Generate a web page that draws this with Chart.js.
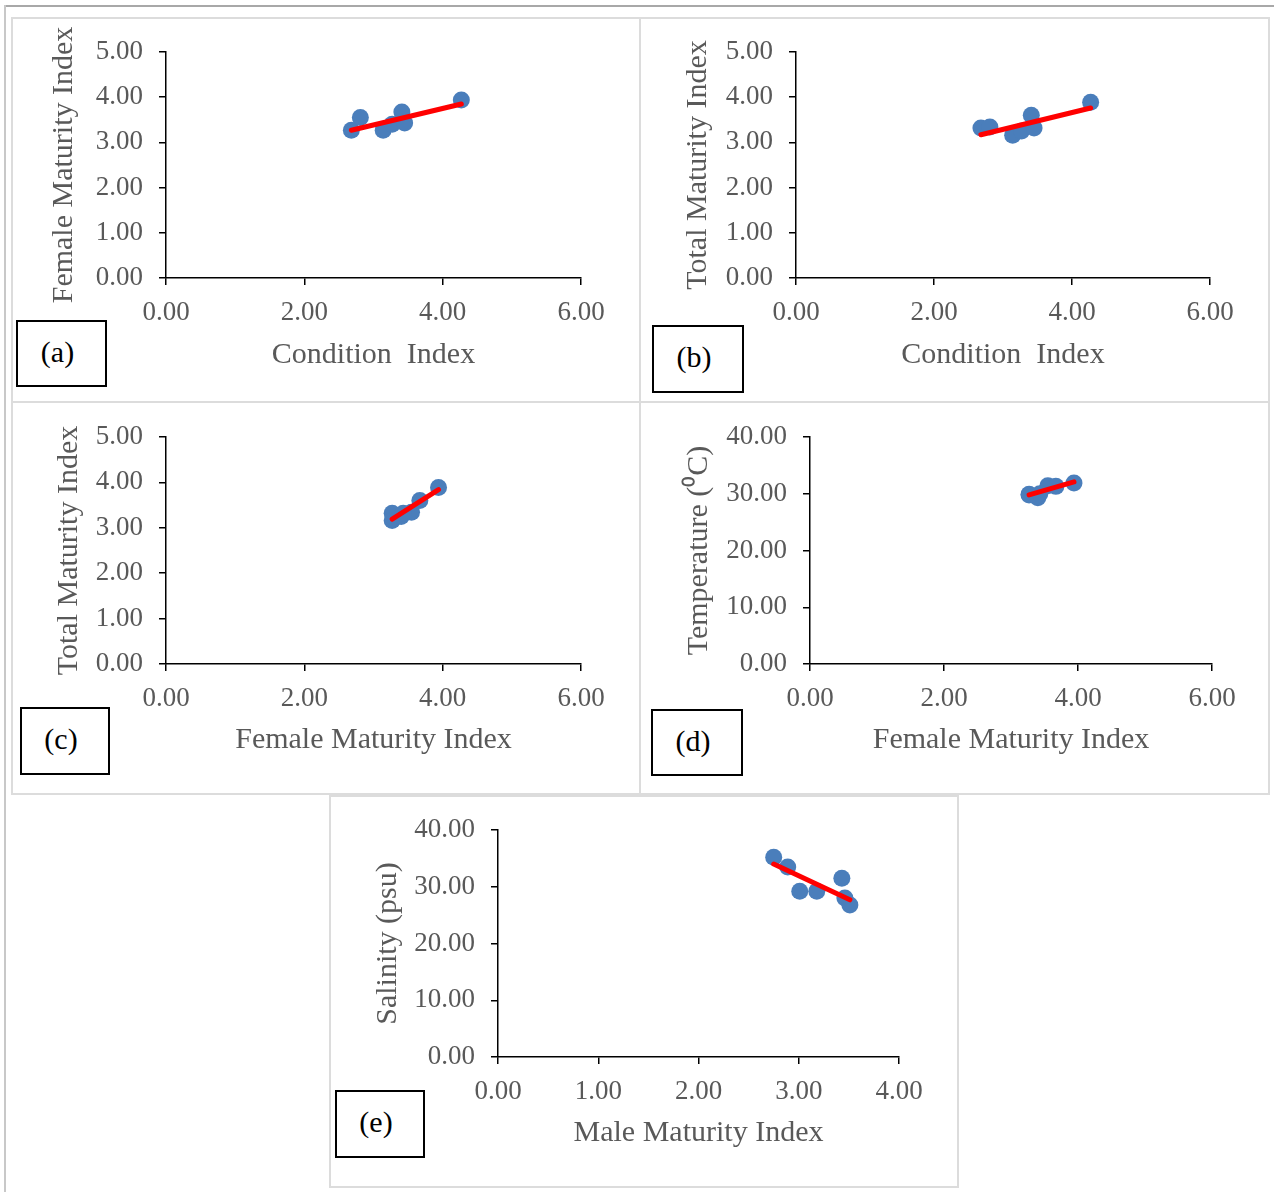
<!DOCTYPE html>
<html><head><meta charset="utf-8">
<script src="https://cdn.jsdelivr.net/npm/chart.js@4.4.0/dist/chart.umd.min.js"></script>
<style>
html,body{margin:0;padding:0;background:#fff;}
body{width:1274px;height:1192px;position:relative;overflow:hidden;font-family:"Liberation Serif","Times New Roman",serif;}
.abs{position:absolute;box-sizing:border-box;}
.panel{border:2px solid #dcdcdc;}
.lbl{border:2px solid #000;font-size:30px;color:#000;display:flex;align-items:center;justify-content:center;padding-right:8px;padding-bottom:4px;background:#fff;z-index:5;}
canvas{position:absolute;}
</style></head><body>
<div class="abs" style="left:4px;top:5px;width:1270px;height:2px;background:#a8a8a8"></div>
<div class="abs" style="left:4px;top:5px;width:2px;height:1187px;background:#c8c8c8"></div>
<div class="abs panel" style="left:11px;top:17px;width:630px;height:386px"></div>
<div class="abs panel" style="left:639px;top:17px;width:631px;height:386px"></div>
<div class="abs panel" style="left:11px;top:401px;width:630px;height:394px"></div>
<div class="abs panel" style="left:639px;top:401px;width:631px;height:394px"></div>
<div class="abs panel" style="left:329px;top:795px;width:630px;height:393px"></div>
<div class="abs lbl" style="left:16px;top:320px;width:91px;height:67px">(a)</div>
<div class="abs lbl" style="left:652px;top:325px;width:92px;height:68px">(b)</div>
<div class="abs lbl" style="left:20px;top:707px;width:90px;height:68px">(c)</div>
<div class="abs lbl" style="left:651px;top:709px;width:92px;height:67px">(d)</div>
<div class="abs lbl" style="left:335px;top:1090px;width:90px;height:68px">(e)</div>
<script>
// ---- data (one entry per sample) ----
const conditionIndex = [2.68, 2.81, 3.14, 3.27, 3.41, 3.45, 4.27];
const femaleMaturity = [3.27, 3.55, 3.27, 3.40, 3.67, 3.43, 3.94];
const totalMaturity  = [3.32, 3.34, 3.16, 3.25, 3.60, 3.32, 3.89];
const temperature    = [29.9, 31.4, 29.8, 29.3, 31.3, 30.0, 31.9];
const maleMaturity   = [2.75, 2.89, 3.01, 3.18, 3.43, 3.46, 3.51];
const salinity       = [35.2, 33.5, 29.2, 29.2, 31.5, 28.0, 26.8];

// ---- trend line endpoints (as drawn in the figure) ----
const trendAx = [2.68, 4.27], trendAy = [3.27, 3.85];
const trendBx = [2.68, 4.27], trendBy = [3.17, 3.76];
const trendCx = [3.27, 3.94], trendCy = [3.19, 3.84];
const trendDx = [3.27, 3.94], trendDy = [29.8, 32.1];
const trendEx = [2.75, 3.51], trendEy = [34.0, 27.7];

// ---- tick values ----
const ticks0to5 = [0, 1, 2, 3, 4, 5];
const ticks0to6 = [0, 2, 4, 6];
const ticks0to40 = [0, 10, 20, 30, 40];
const ticks0to4 = [0, 1, 2, 3, 4];

// ---- titles ----
const titlesA = ['Condition  Index', 'Female Maturity Index'];
const titlesB = ['Condition  Index', 'Total Maturity Index'];
const titlesC = ['Female Maturity Index', 'Total Maturity Index'];
const titlesD = ['Female Maturity Index', 'Temperature (\u2070C)'];
const titlesE = ['Male Maturity Index', 'Salinity (psu)'];

const FONT = '"Liberation Serif","Times New Roman",serif';
const GREY = '#595959';

function makePanel(box, area, titleX, titleY, titles, xTicks, yTicks, xs, ys, tx, ty) {
  const c = document.createElement('canvas');
  c.width = box.w; c.height = box.h;
  c.style.left = box.x + 'px'; c.style.top = box.y + 'px';
  c.style.width = box.w + 'px'; c.style.height = box.h + 'px';
  c.style.zIndex = 2;
  document.body.appendChild(c);
  const yAxisW = area.l - box.x;
  const xAxisH = (box.y + box.h) - area.b;
  const tickFont = {family: FONT, size: 27};
  const titleFont = {family: FONT, size: 30};
  const axisCommon = {
    type: 'linear',
    grid: {drawOnChartArea: false, drawTicks: true, tickLength: 7, color: '#000', lineWidth: 1.5},
    border: {color: '#000', width: 1.5}
  };
  new Chart(c.getContext('2d'), {
    type: 'scatter',
    data: {datasets: [
      {type: 'line', data: tx.map((v, i) => ({x: v, y: ty[i]})), borderColor: '#ff0000', borderWidth: 5,
       pointRadius: 0, borderCapStyle: 'round', fill: false, order: 0},
      {type: 'scatter', data: xs.map((v, i) => ({x: v, y: ys[i]})), backgroundColor: '#4a7ebb',
       borderWidth: 0, pointRadius: 8.5, pointHoverRadius: 8.5, order: 1}
    ]},
    options: {
      animation: false, responsive: false, events: [],
      plugins: {legend: {display: false}, tooltip: {enabled: false}},
      layout: {padding: {left: 0, top: area.t - box.y, right: (box.x + box.w) - area.r, bottom: 0}},
      scales: {
        x: Object.assign({}, axisCommon, {
          position: 'bottom', min: xTicks[0], max: xTicks[xTicks.length - 1],
          afterBuildTicks: s => { s.ticks = xTicks.map(v => ({value: v})); },
          ticks: {font: tickFont, color: GREY, padding: 12, maxRotation: 0, autoSkip: false, callback: v => Number(v).toFixed(2)},
          title: {display: true, text: titles[0], font: titleFont, color: GREY,
                  padding: {top: 0, bottom: (box.y + box.h) - titleY - 18}},
          afterFit: s => { s.height = xAxisH; }
        }),
        y: Object.assign({}, axisCommon, {
          position: 'left', min: yTicks[0], max: yTicks[yTicks.length - 1],
          afterBuildTicks: s => { s.ticks = yTicks.map(v => ({value: v})); },
          ticks: {font: tickFont, color: GREY, padding: 16, autoSkip: false, callback: v => Number(v).toFixed(2)},
          title: {display: true, text: titles[1], font: titleFont, color: GREY,
                  padding: {top: titleX - box.x - 18, bottom: 0}},
          afterFit: s => { s.width = yAxisW; }
        })
      }
    }
  });
}

makePanel({x: 12, y: 18, w: 626, h: 382}, {l: 166, t: 52, r: 581, b: 278}, 64, 355,
  titlesA, ticks0to6, ticks0to5, conditionIndex, femaleMaturity, trendAx, trendAy);
makePanel({x: 641, y: 18, w: 627, h: 382}, {l: 796, t: 52, r: 1210, b: 278}, 698, 355,
  titlesB, ticks0to6, ticks0to5, conditionIndex, totalMaturity, trendBx, trendBy);
makePanel({x: 12, y: 403, w: 626, h: 390}, {l: 166, t: 437, r: 581, b: 664}, 69, 740,
  titlesC, ticks0to6, ticks0to5, femaleMaturity, totalMaturity, trendCx, trendCy);
makePanel({x: 641, y: 403, w: 627, h: 390}, {l: 810, t: 437, r: 1212, b: 664}, 699, 740,
  titlesD, ticks0to6, ticks0to40, femaleMaturity, temperature, trendDx, trendDy);
makePanel({x: 331, y: 797, w: 626, h: 389}, {l: 498, t: 830, r: 899, b: 1057}, 388, 1133,
  titlesE, ticks0to4, ticks0to40, maleMaturity, salinity, trendEx, trendEy);
</script>
</body></html>
